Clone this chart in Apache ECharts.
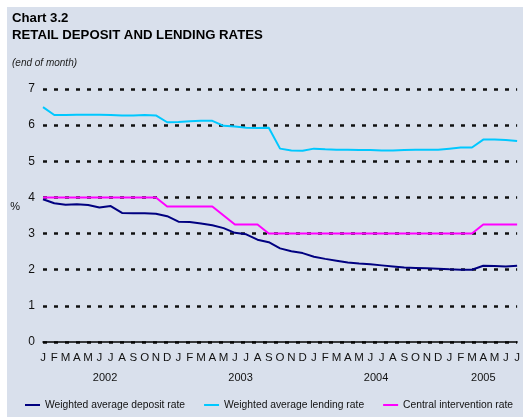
<!DOCTYPE html>
<html>
<head>
<meta charset="utf-8">
<script src="https://cdn.jsdelivr.net/npm/echarts@6/dist/echarts.min.js"></script>
<style>
  html, body { margin: 0; padding: 0; background: #ffffff; }
  #wrap { position: relative; width: 523px; height: 417px; background: #ffffff; overflow: hidden; }
  #bg { position: absolute; left: 7px; top: 7px; right: 0; bottom: 0; background: #d9e0ec; }
  #chart { position: absolute; left: 0; top: 0; width: 523px; height: 417px; }
</style>
</head>
<body>
<div id="wrap"><div id="bg"></div><div id="chart"></div></div>
<script>
// ---- data ----
const monthLetters = ['J','F','M','A','M','J','J','A','S','O','N','D'];
const years = ['2002','2003','2004','2005'];
// Year label positions in month index units (centre of each year's months)
const yearCentres = [5.5, 17.5, 29.5, 39];
// Jan 2002 .. Jul 2005 (43 months)
const categories = [];
for (let y = 0; y < 4; y++) {
  for (let m = 0; m < 12; m++) {
    if (y === 3 && m > 6) break;
    categories.push(years[y] + '-' + String(m + 1).padStart(2, '0'));
  }
}
const depositRate = [
  3.95, 3.84, 3.80, 3.81, 3.79, 3.72, 3.76, 3.57, 3.56, 3.56, 3.55, 3.48,
  3.33, 3.32, 3.28, 3.23, 3.15, 3.02, 2.98, 2.83, 2.76, 2.59, 2.51, 2.46,
  2.36, 2.30, 2.25, 2.20, 2.17, 2.15, 2.12, 2.09, 2.06, 2.05, 2.04, 2.03,
  2.01, 2.00, 2.00, 2.11, 2.10, 2.09, 2.11
];
const lendingRate = [
  6.50, 6.28, 6.28, 6.29, 6.29, 6.29, 6.28, 6.27, 6.27, 6.28, 6.27, 6.08,
  6.09, 6.11, 6.12, 6.12, 5.98, 5.96, 5.93, 5.92, 5.93, 5.35, 5.30, 5.29,
  5.35, 5.33, 5.32, 5.32, 5.31, 5.31, 5.30, 5.30, 5.31, 5.32, 5.32, 5.32,
  5.35, 5.38, 5.38, 5.60, 5.60, 5.59, 5.56
];
const interventionRate = [
  4.00, 4.00, 4.00, 4.00, 4.00, 4.00, 4.00, 4.00, 4.00, 4.00, 4.00, 3.75,
  3.75, 3.75, 3.75, 3.75, 3.50, 3.25, 3.25, 3.25, 3.00, 3.00, 3.00, 3.00,
  3.00, 3.00, 3.00, 3.00, 3.00, 3.00, 3.00, 3.00, 3.00, 3.00, 3.00, 3.00,
  3.00, 3.00, 3.00, 3.25, 3.25, 3.25, 3.25
];
const seriesNames = ['Weighted average deposit rate', 'Weighted average lending rate', 'Central intervention rate'];
const unitLabel = '%';
const unitLabelValue = 3.72; // vertical level of the "%" label on the y scale

const FONT = '"Liberation Sans", Arial, sans-serif';
const chart = echarts.init(document.getElementById('chart'), null, { renderer: 'canvas' });

chart.setOption({
  animation: false,
  backgroundColor: 'transparent',
  textStyle: { fontFamily: FONT },
  title: [
    {
      text: 'Chart 3.2\nRETAIL DEPOSIT AND LENDING RATES',
      left: 7, top: 5,
      textStyle: { fontFamily: FONT, fontSize: 13.2, fontWeight: 'bold', color: '#000', lineHeight: 17 }
    },
    {
      text: '(end of month)',
      left: 7, top: 53,
      textStyle: { fontFamily: FONT, fontSize: 10, fontStyle: 'italic', fontWeight: 'normal', color: '#222' }
    }
  ],
  legend: {
    bottom: 7,
    left: 25,
    width: 497,
    padding: 0,
    icon: 'rect',
    itemWidth: 15,
    itemHeight: 2,
    itemGap: 19,
    textStyle: { fontFamily: FONT, fontSize: 10.3, color: '#111' },
    data: seriesNames
  },
  grid: { left: 43, right: 2, top: 89, bottom: 75, containLabel: false },
  xAxis: [
    {
      type: 'category',
      data: categories,
      boundaryGap: false,
      axisLine: { show: true, lineStyle: { color: '#000', width: 1.5 } },
      axisTick: { show: false },
      axisLabel: {
        interval: 0,
        margin: 10,
        fontFamily: FONT, fontSize: 11.5, color: '#111',
        formatter: (v) => monthLetters[parseInt(v.slice(5), 10) - 1]
      },
      splitLine: { show: false }
    },
    {
      type: 'value',
      position: 'bottom',
      offset: 20,
      min: 0,
      max: categories.length - 1,
      axisLine: { show: false },
      axisTick: { show: false },
      splitLine: { show: false },
      axisLabel: {
        customValues: yearCentres,
        margin: 10,
        fontFamily: FONT, fontSize: 11, color: '#111',
        formatter: (v) => years[yearCentres.indexOf(v)]
      }
    }
  ],
  yAxis: {
    type: 'value',
    min: 0, max: 7, interval: 1,
    axisLine: { show: false },
    axisTick: { show: false },
    axisLabel: { margin: 8, fontFamily: FONT, fontSize: 12, color: '#111' },
    splitLine: { show: true, lineStyle: { color: '#111', width: 2.5, type: [4, 7] } }
  },
  series: [
    {
      name: seriesNames[0], type: 'line', data: depositRate, showSymbol: false,
      lineStyle: { color: '#000080', width: 2 }, itemStyle: { color: '#000080' }, z: 3
    },
    {
      name: seriesNames[1], type: 'line', data: lendingRate, showSymbol: false,
      lineStyle: { color: '#00c8ff', width: 2 }, itemStyle: { color: '#00c8ff' }, z: 3
    },
    {
      name: seriesNames[2], type: 'line', data: interventionRate, showSymbol: false,
      lineStyle: { color: '#ff00ff', width: 2 }, itemStyle: { color: '#ff00ff' }, z: 4
    }
  ]
});

// place the "%" unit label using the y scale
const unitY = chart.convertToPixel({ yAxisIndex: 0 }, unitLabelValue);
chart.setOption({
  graphic: [{
    type: 'text', right: 523 - 20, top: unitY - 6,
    style: { text: unitLabel, font: '11px ' + FONT, fill: '#111' }
  }]
});
</script>
</body>
</html>
